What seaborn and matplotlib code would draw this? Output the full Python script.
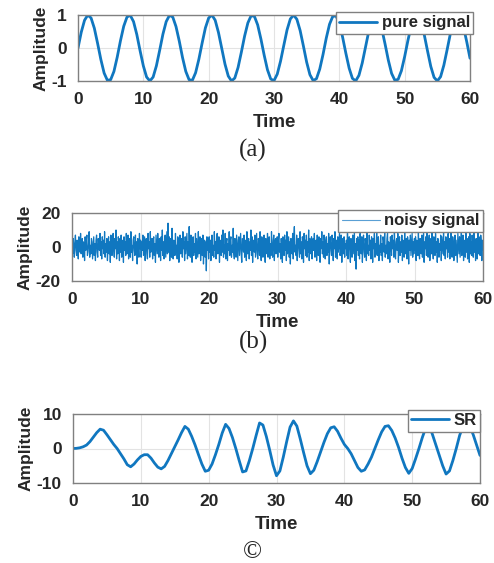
import numpy as np
import pandas as pd
import seaborn as sns
import matplotlib
matplotlib.use("Agg")
import matplotlib.pyplot as plt

# ---------------- data ----------------
time_ticks = [0, 10, 20, 30, 40, 50, 60]

# (a) pure signal, sampled every 0.5 time units from 0 to 60
pure_signal = [
    0.00, 0.48, 0.84, 1.00, 0.91, 0.60, 0.14, -0.35, -0.76, -0.98, -0.96, -0.71,
    -0.28, 0.22, 0.66, 0.94, 0.99, 0.80, 0.41, -0.08, -0.54, -0.88, -1.00, -0.88,
    -0.54, -0.07, 0.42, 0.80, 0.99, 0.94, 0.65, 0.21, -0.29, -0.71, -0.96, -0.98,
    -0.75, -0.34, 0.15, 0.61, 0.91, 1.00, 0.84, 0.47, -0.01, -0.49, -0.85, -1.00,
    -0.91, -0.59, -0.13, 0.36, 0.76, 0.98, 0.96, 0.70, 0.27, -0.22, -0.66, -0.94,
    -0.99, -0.79, -0.40, 0.08, 0.55, 0.88, 1.00, 0.87, 0.53, 0.06, -0.43, -0.81,
    -0.99, -0.93, -0.64, -0.20, 0.30, 0.72, 0.96, 0.97, 0.75, 0.33, -0.16, -0.61,
    -0.92, -1.00, -0.83, -0.46, 0.02, 0.50, 0.85, 1.00, 0.90, 0.58, 0.12, -0.37,
    -0.77, -0.98, -0.95, -0.69, -0.26, 0.23, 0.67, 0.94, 0.99, 0.79, 0.40, -0.09,
    -0.56, -0.89, -1.00, -0.87, -0.52, -0.05, 0.44, 0.82, 0.99, 0.93, 0.64, 0.19,
    -0.31,
]

# (b) noisy signal, ~12 samples per time unit (one row = 5 time units)
noisy_signal = [
    2, -4, 5, 1, -6, 3, 7, -2, -5, 4, 0, -7, 6, 2, -3, 8, -4, -1, 5, -6, 3, 1, -8, 6, -2, 4, 7, -5, -3, 2,
    9, -6, 1, -4, 5, 3, -7, 0, 6, -5, 2, -8, 4, 7, -3, -6, 5, 1, -2, 8, -5, 3, -7, 6, -1, 4, -4, 9, -6, 2,
    -3, 5, -8, 1, 6, -4, 3, -9, 7, 0, -5, 4, 8, -2, -6, 5, -1, 10, -7, 3, -4, 6, 2, -8, 5, -3, 7, -6, 1, 4,
    -9, 6, -2, 3, -5, 8, -4, 0, 7, -7, 2, 5, -6, 9, -3, 1, -8, 4, 6, -2, -5, 7, -4, 3, -10, 5, 2, -6, 8, -1,
    4, -6, 3, -2, 7, -5, 1, 6, -8, 2, 5, -4, -7, 8, -1, 3, -6, 9, -3, 0, 5, -7, 4, 6, -5, 2, -9, 7, 1, -4,
    8, -3, -6, 5, 2, -8, 6, -2, 10, -5, 3, -7, 4, 7, -6, 1, 9, -4, 14, -3, 6, -8, 2, 5, -6, 11, -2, -7, 4, 3,
    -5, 8, -3, 1, -7, 6, 4, -9, 2, 7, -4, -2, 5, -6, 9, -1, 3, -8, 6, -4, 2, 8, -7, 3, -5, 12, -3, -6, 7, 1,
    -9, 4, 6, -5, 2, -3, 8, -7, 5, -1, -6, 9, -4, 3, 6, -8, 1, 5, -5, 7, -10, 2, 4, -6, 3, -14, 6, -2, 5, -7,
    6, -3, 4, -8, 2, 7, -5, 1, -6, 9, -2, 3, -7, 5, 8, -4, -1, 6, -9, 4, 2, -5, 7, -3, 10, -6, 1, -4, 8, -7,
    3, 5, -8, 2, -2, 9, -5, 4, 6, -6, 1, -3, 11, -4, -7, 5, 3, -6, 7, -1, -8, 4, 6, -5, 2, 8, -4, -9, 5, 1,
    -3, 7, -6, 4, 2, -8, 9, -4, 1, 5, -7, 3, -2, 10, -5, 6, -9, 2, 4, -3, 7, -6, 1, 8, -4, -7, 5, 3, -5, 9,
    -2, -8, 6, 4, -6, 2, 7, -3, -9, 5, 1, -4, 8, -6, 3, 6, -7, 2, -5, 9, -1, -6, 4, 7, -8, 3, 5, -4, -2, 6,
    -6, 4, 8, -3, 2, -7, 5, -1, -9, 6, 3, -5, 7, -2, 4, -8, 9, -4, 1, 6, -6, 3, -10, 5, 2, -4, 8, -7, 6, 12,
    -3, 1, -5, 7, -8, 4, 5, -2, -6, 9, -4, 3, -7, 6, 2, -9, 8, -1, 4, -5, 7, -6, 3, -3, 10, -8, 5, 1, -4, 6,
    -7, 3, 5, -2, 8, -6, 1, 4, -8, 7, -3, -5, 6, 2, -9, 5, -1, 9, -4, 3, -6, 7, 1, -7, 4, 6, -5, 2, -3, 8,
    -10, 4, 6, -2, -5, 7, 3, -8, 5, -1, 9, -6, 2, 4, -7, 6, -3, 1, 8, -5, -2, 7, -9, 3, 5, -4, 6, -6, 2, -1,
    4, -5, 8, -7, 2, 6, -3, -9, 5, 1, -6, 7, -4, 3, 9, -8, 2, -13, 5, -2, 6, -5, 4, -7, 8, 1, -4, 6, -9, 3,
    7, -3, -6, 5, 2, -8, 10, -4, 1, -5, 7, -2, 4, -7, 6, 3, -9, 5, -1, 8, -6, 2, -4, 9, -5, 3, 6, -8, 1, -3,
    7, -5, 2, -8, 6, 4, -3, 9, -6, 1, -4, 5, 8, -7, 3, -2, -9, 6, 2, -5, 7, -1, 4, -6, 11, -4, -7, 3, 5, -2,
    8, -9, 1, 6, -5, 3, -3, 7, -8, 4, 2, -6, 9, -4, -1, 5, -7, 6, 3, -10, 4, -2, 7, -5, 1, 8, -6, 3, -4, 5,
    -2, 6, -8, 4, 3, -5, 9, -3, -7, 5, 1, -4, 7, -6, 2, 8, -9, 3, -1, 6, -5, 10, -3, -6, 4, 7, -8, 2, 5, -4,
    9, -2, -7, 6, 1, -5, 8, -3, 3, -9, 5, 4, -6, 2, -2, 7, -8, 6, 1, -4, 10, -5, 3, -7, 6, -1, 4, -6, 8, -3,
    5, -7, 2, 9, -4, -6, 6, 3, -8, 1, 7, -5, 4, -2, -9, 8, 2, -4, 6, -6, 3, 11, -5, -2, 7, -8, 4, 1, -6, 9,
    -3, 5, -7, 2, 6, -9, 8, -4, 3, -5, 7, -1, -6, 10, -3, 4, -8, 5, 2, -7, 9, -4, 6, -2, -5, 7, 3, -8, 4, -2,
]

# (c) SR output, sampled every 0.5 time units from 0 to 60
sr_output = [
    0.0, 0.05, 0.2, 0.5, 1.0, 2.0, 3.3, 4.6, 5.6, 5.3, 4.0, 2.6,
    1.2, 0.0, -1.5, -3.0, -4.7, -5.3, -4.5, -3.3, -2.3, -1.8, -1.8, -2.8,
    -4.2, -5.4, -5.9, -5.2, -3.5, -1.5, 0.5, 2.5, 4.6, 6.4, 5.6, 3.5,
    1.0, -1.8, -4.5, -6.6, -6.3, -4.5, -1.8, 1.2, 4.5, 7.0, 5.8, 3.2,
    0.0, -3.5, -6.8, -6.5, -3.5, 0.0, 3.8, 7.4, 6.8, 3.5, -0.5, -4.8,
    -7.9, -6.5, -2.5, 2.0, 6.2, 8.0, 6.5, 2.8, -1.2, -5.0, -7.3, -6.3,
    -3.8, -1.0, 1.8, 4.3, 6.0, 6.3, 5.0, 3.0, 1.2, 0.0, -1.5, -3.5,
    -5.5, -6.6, -6.2, -4.5, -2.5, 0.0, 2.5, 4.8, 6.4, 6.6, 5.2, 3.0,
    0.3, -2.8, -5.5, -7.2, -5.8, -3.0, 0.0, 3.2, 6.0, 6.8, 4.0, 1.0,
    -2.0, -5.0, -7.4, -6.5, -3.5, 0.0, 3.8, 6.5, 7.3, 6.5, 4.0, 1.0,
    -2.0,
]

series_labels = ["pure signal", "noisy signal", "SR"]
y_limits = [(-1, 1), (-20, 20), (-10, 10)]
y_ticks = [[-1, 0, 1], [-20, 0, 20], [-10, 0, 10]]
captions = ["(a)", "(b)", "\u00a9"]

# ---------------- style ----------------
sns.set_style("white")
plt.rcParams["font.family"] = ["Liberation Sans", "DejaVu Sans"]
plt.rcParams["axes.unicode_minus"] = False

BLUE = "#1077c0"
EDGE = "#808080"

fig = plt.figure(figsize=(4.94, 5.63), dpi=100)

rects = [
    [78 / 494, 1 - 81 / 563, 392 / 494, 66 / 563],
    [72 / 494, 1 - 281 / 563, 411 / 494, 68 / 563],
    [73 / 494, 1 - 483 / 563, 407 / 494, 69 / 563],
]
line_widths = [2.0, 0.9, 2.0]
legend_lw = [2.0, 0.8, 2.0]
legend_anchor = [(1.008, 1.045), (1.0, 1.044), (1.0, 1.058)]
caption_pos = [(253 / 494, 1 - 150 / 563), (253 / 494, 1 - 342 / 563), (252 / 494, 1 - 552 / 563)]
all_values = [pure_signal, noisy_signal, sr_output]

for i, vals in enumerate(all_values):
    ax = fig.add_axes(rects[i])
    t = np.linspace(0, 60, len(vals))
    df = pd.DataFrame({"Time": t, "Amplitude": vals})
    sns.lineplot(data=df, x="Time", y="Amplitude", ax=ax, color=BLUE,
                 linewidth=line_widths[i], estimator=None, label=series_labels[i])
    ax.set_xlim(0, 60)
    ax.set_ylim(*y_limits[i])
    ax.set_xticks(time_ticks)
    ax.set_yticks(y_ticks[i])
    ax.grid(True, color="#e3e3e3", linewidth=0.8)
    ax.set_axisbelow(True)
    ax.tick_params(direction="in", length=3, width=0.8, color=EDGE,
                   labelsize=12.5, pad=8)
    for lab in ax.get_xticklabels() + ax.get_yticklabels():
        lab.set_fontweight("bold")
    ax.set_xlabel("Time", fontsize=13.5, fontweight="bold", labelpad=5)
    ax.set_ylabel("Amplitude", fontsize=12.5, fontweight="bold", labelpad=2)
    for s in ax.spines.values():
        s.set_color(EDGE)
        s.set_linewidth(1.0)
    leg = ax.legend(loc="upper right", bbox_to_anchor=legend_anchor[i],
                    prop={"weight": "bold", "size": 12}, frameon=True,
                    fancybox=False, edgecolor=EDGE, framealpha=1,
                    borderpad=0.2, handlelength=2.3, handletextpad=0.25,
                    borderaxespad=0)
    leg.get_frame().set_linewidth(1.0)
    for h in leg.get_lines():
        h.set_linewidth(legend_lw[i])
        if i == 1:
            h.set_color("#5a9fd4")
    fig.text(caption_pos[i][0], caption_pos[i][1], captions[i], ha="center",
             va="center", family=["Liberation Serif", "DejaVu Serif"], fontsize=18)

fig.savefig("out.png", dpi=100)
